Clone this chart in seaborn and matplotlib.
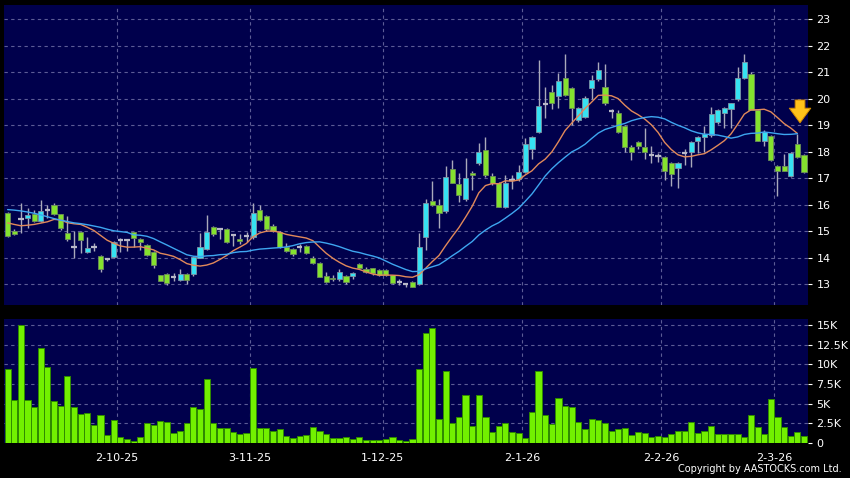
import numpy as np
import pandas as pd
import matplotlib
matplotlib.use("Agg")
import matplotlib.pyplot as plt
import seaborn as sns

# daily candles, one per trading day
opens = [15.67, 15.01, 15.45, 15.49, 15.63, 15.39, 15.79, 16.00, 15.63, 14.91,
         14.41, 14.97, 14.22, 14.38, 14.06, 13.94, 14.03, 14.66, 14.66, 14.95,
         14.70, 14.47, 14.22, 13.34, 13.37, 13.28, 13.15, 13.37, 13.37, 14.00,
         14.32, 15.16, 15.06, 15.06, 14.85, 14.69, 14.80, 14.79, 15.79, 15.58,
         15.19, 14.97, 14.41, 14.31, 14.41, 14.43, 14.00, 13.80, 13.30, 13.24,
         13.18, 13.30, 13.30, 13.77, 13.57, 13.59, 13.52, 13.52, 13.34, 13.07,
         12.99, 13.06, 12.99, 14.79, 16.14, 15.98, 15.77, 17.36, 16.77, 16.20,
         17.20, 17.55, 18.05, 17.09, 16.80, 15.92, 16.92, 16.95, 17.24, 18.08,
         18.74, 19.79, 20.23, 20.09, 20.76, 20.38, 19.19, 19.29, 20.41, 20.72,
         20.45, 19.53, 19.46, 18.96, 18.18, 18.37, 18.16, 17.87, 17.85, 17.80,
         17.58, 17.37, 17.96, 17.97, 18.41, 18.56, 18.62, 19.11, 19.46, 19.59,
         19.97, 20.79, 20.94, 19.57, 18.40, 18.58, 17.46, 17.46, 17.08, 18.27,
         17.87]
highs = [15.72, 15.08, 16.04, 15.86, 15.80, 16.17, 16.00, 16.05, 15.65, 15.57,
         15.00, 15.00, 14.79, 14.55, 14.10, 14.00, 14.62, 14.72, 14.70, 14.97,
         14.72, 14.50, 14.25, 13.36, 13.40, 13.40, 13.57, 13.40, 14.05, 14.92,
         15.60, 15.20, 15.10, 15.10, 14.90, 14.90, 14.95, 16.04, 15.98, 15.62,
         15.25, 15.00, 14.55, 14.35, 14.50, 14.46, 14.05, 13.84, 13.45, 13.35,
         13.55, 13.35, 13.45, 13.80, 13.65, 13.62, 13.55, 13.55, 13.36, 13.20,
         13.05, 13.10, 14.91, 16.20, 16.90, 16.20, 17.45, 17.70, 17.20, 17.75,
         17.25, 18.33, 18.56, 17.20, 16.85, 17.10, 17.10, 17.50, 18.50, 18.60,
         21.45, 20.45, 20.50, 20.96, 21.68, 20.45, 19.70, 20.10, 20.89, 21.38,
         21.30, 19.60, 19.55, 19.00, 18.25, 18.40, 18.90, 18.20, 17.95, 17.85,
         17.62, 17.60, 18.10, 18.40, 18.58, 18.95, 19.70, 19.60, 19.70, 19.85,
         21.20, 21.68, 21.00, 19.60, 18.80, 18.62, 17.50, 17.90, 18.00, 18.65,
         17.90]
lows = [14.77, 14.85, 14.91, 15.10, 15.35, 15.35, 15.50, 15.60, 15.04, 14.62,
        13.99, 14.17, 14.18, 14.25, 13.47, 13.88, 14.00, 14.20, 14.25, 14.40,
        14.30, 14.05, 13.60, 13.10, 12.96, 13.10, 13.12, 13.00, 13.30, 13.98,
        14.30, 14.80, 14.70, 14.55, 14.45, 14.50, 14.60, 14.70, 15.38, 15.00,
        14.95, 14.35, 14.22, 14.05, 14.20, 14.15, 13.75, 13.25, 13.05, 13.10,
        13.12, 13.00, 13.20, 13.55, 13.40, 13.35, 13.30, 13.30, 13.00, 12.95,
        12.90, 12.88, 12.95, 14.28, 15.95, 15.10, 15.70, 16.80, 16.10, 16.15,
        16.55, 17.50, 17.05, 16.75, 15.90, 15.88, 16.60, 16.90, 17.20, 17.72,
        18.70, 19.25, 19.60, 19.65, 20.10, 19.00, 19.10, 19.25, 20.00, 20.65,
        19.75, 19.25, 18.70, 17.98, 17.68, 18.10, 17.72, 17.55, 17.60, 16.92,
        16.70, 16.62, 17.50, 17.40, 17.95, 18.00, 18.55, 19.05, 18.90, 18.90,
        19.90, 20.75, 19.55, 18.40, 18.20, 17.65, 16.32, 17.25, 17.05, 17.75,
        17.20]
closes = [14.83, 14.90, 15.45, 15.60, 15.39, 15.77, 15.79, 15.63, 15.12, 14.69,
          14.41, 14.66, 14.37, 14.38, 13.55, 13.94, 14.60, 14.66, 14.66, 14.72,
          14.57, 14.09, 13.72, 13.12, 13.03, 13.28, 13.37, 13.17, 14.03, 14.41,
          14.95, 14.88, 15.06, 14.60, 14.85, 14.62, 14.80, 15.70, 15.42, 15.08,
          15.00, 14.41, 14.25, 14.12, 14.41, 14.18, 13.80, 13.28, 13.09, 13.20,
          13.46, 13.09, 13.40, 13.62, 13.46, 13.40, 13.35, 13.34, 13.03, 13.07,
          12.99, 12.90, 14.38, 16.07, 15.98, 15.69, 17.05, 16.82, 16.36, 16.99,
          17.11, 17.99, 17.11, 16.80, 15.92, 16.82, 16.92, 17.24, 18.28, 18.54,
          19.73, 19.79, 19.82, 20.67, 20.13, 19.63, 19.63, 20.03, 20.70, 21.08,
          19.82, 19.53, 18.75, 18.18, 17.97, 18.21, 17.99, 17.87, 17.85, 17.28,
          17.14, 17.55, 17.96, 18.37, 18.54, 18.66, 19.42, 19.55, 19.65, 19.82,
          20.76, 21.39, 19.57, 18.40, 18.75, 17.68, 17.26, 17.28, 17.96, 17.78,
          17.22]
volume = [9400, 5450, 15000, 5450, 4600, 12050, 9600, 5350, 4750, 8500,
          4600, 3700, 3850, 2300, 3550, 1000, 2900, 700, 500, 250,
          700, 2500, 2300, 2850, 2700, 1250, 1500, 2500, 4600, 4300,
          8150, 2500, 1850, 1850, 1350, 1150, 1250, 9500, 1850, 1850,
          1570, 1740, 930, 680, 890, 1020, 2080, 1520, 1100, 590,
          680, 760, 510, 800, 340, 340, 340, 510, 800, 340,
          210, 550, 9350, 13950, 14600, 3000, 9150, 2600, 3250, 6100,
          2150, 6100, 3350, 1350, 2200, 2500, 1350, 1300, 680, 3980,
          9150, 3550, 2370, 5750, 4700, 4550, 2700, 1750, 3050, 2900,
          2600, 1530, 1780, 1950, 1020, 1350, 1230, 800, 930, 800,
          1100, 1570, 1570, 2700, 1300, 1520, 2150, 1100, 1100, 1200,
          1150, 800, 3520, 2080, 1100, 5550, 3350, 2000, 890, 1440,
          930]

# moving-average values visible before a full window exists in the data
ma10_head = [15.31, 15.25, 15.20, 15.22, 15.25, 15.30, 15.35, 15.44, 15.42]
ma20_head = [15.81, 15.79, 15.76, 15.72, 15.67, 15.61, 15.54, 15.47, 15.41, 15.36,
             15.31, 15.28, 15.24, 15.19, 15.14, 15.07, 15.01, 14.98, 14.95]

tick_pos = [16.5, 36.5, 56.5, 77.5, 98.5, 115.5]
tick_labels = ["2-10-25", "3-11-25", "1-12-25", "2-1-26", "2-2-26", "2-3-26"]
price_ticks = list(range(13, 24))
vol_ticks = [0, 2500, 5000, 7500, 10000, 12500, 15000]
vol_labels = ["0", "2.5K", "5K", "7.5K", "10K", "12.5K", "15K"]

df = pd.DataFrame({"open": opens, "high": highs, "low": lows,
                   "close": closes, "volume": volume})
df["day"] = np.arange(len(df))
df["ma10"] = df["close"].rolling(10).mean()
df["ma20"] = df["close"].rolling(20).mean()
df.loc[:len(ma10_head) - 1, "ma10"] = ma10_head
df.loc[:len(ma20_head) - 1, "ma20"] = ma20_head

BG = "#00004c"
GRID = "#5c5c96"
UP = "#36e2f2"
DOWN = "#84e22e"
WICK = "#a9a9bb"

sns.set_theme(style="dark", rc={"figure.facecolor": "black",
                                "axes.facecolor": BG,
                                "font.family": "DejaVu Sans"})

fig = plt.figure(figsize=(8.5, 4.78), dpi=100)
W, H = 850, 478
ax_p = fig.add_axes([3.5 / W, 1 - 305 / H, 804.5 / W, 300 / H])
ax_v = fig.add_axes([3.5 / W, 1 - 443 / H, 804.5 / W, 124 / H])

# ---- price panel
for ax in (ax_p, ax_v):
    ax.set_facecolor(BG)
    for s in ax.spines.values():
        s.set_visible(False)
    for t in tick_pos:
        ax.axvline(t, color=GRID, lw=0.8, ls=(0, (3, 3)), zorder=0)

for p in price_ticks:
    ax_p.axhline(p, color=GRID, lw=0.8, ls=(0, (3, 3)), zorder=0)

ax_p.vlines(df["day"], df["low"], df["high"], color=WICK, lw=1, zorder=1)

up = df[df["close"] > df["open"]]
down = df[df["close"] < df["open"]]
flat = df[df["close"] == df["open"]]
ax_p.bar(up["day"], up["close"] - up["open"], bottom=up["open"], width=0.78,
         color=UP, edgecolor="#7f93a6", linewidth=0.6, zorder=2)
ax_p.bar(down["day"], down["open"] - down["close"], bottom=down["close"], width=0.78,
         color=DOWN, edgecolor="#6c8c5a", linewidth=0.6, zorder=2)
ax_p.hlines(flat["close"], flat["day"] - 0.4, flat["day"] + 0.4, color="#b8b8c8",
            lw=1.6, zorder=2)

ma = df.iloc[:-1]
sns.lineplot(data=ma, x="day", y="ma10", color="#e2895a", lw=1, ax=ax_p, zorder=3)
sns.lineplot(data=ma, x="day", y="ma20", color="#3ea6f0", lw=1, ax=ax_p, zorder=3)

ax_p.annotate("", xy=(119.4, 18.98), xytext=(119.4, 20.05),
              arrowprops=dict(arrowstyle="simple,head_width=1.1,head_length=0.75,tail_width=0.5",
                              fc="#ffc21a", ec="#d48a00", lw=0.7, mutation_scale=14),
              zorder=5)

ax_p.set_xlim(-0.62, 120.6)
ax_p.set_ylim(12.21, 23.53)
ax_p.yaxis.tick_right()
ax_p.set_yticks(price_ticks)
ax_p.set_xticks(tick_pos)
ax_p.set_xticklabels([])
ax_p.tick_params(axis="x", length=0)
ax_p.tick_params(axis="y", colors="white", labelsize=8, length=3, width=0.8,
                 pad=3, labelcolor="white")
ax_p.set_xlabel("")
ax_p.set_ylabel("")
ax_p.grid(False)

# ---- volume panel
for v in vol_ticks[1:]:
    ax_v.axhline(v, color=GRID, lw=0.8, ls=(0, (3, 3)), zorder=0)

sns.barplot(data=df, x="day", y="volume", native_scale=True, color="#72f000",
            saturation=1, width=0.92, edgecolor="#2f8a00", linewidth=0.7,
            errorbar=None, ax=ax_v, zorder=2)

ax_v.set_xlim(-0.62, 120.6)
ax_v.set_ylim(0, 15760)
ax_v.yaxis.tick_right()
ax_v.set_yticks(vol_ticks)
ax_v.set_yticklabels(vol_labels)
ax_v.set_xticks(tick_pos)
ax_v.set_xticklabels(tick_labels)
ax_v.tick_params(axis="y", colors="white", labelsize=8, length=3, width=0.8, pad=3)
ax_v.tick_params(axis="x", colors="#bbbbbb", labelcolor="white", labelsize=8,
                 length=4, width=0.8, pad=3)
ax_v.set_xlabel("")
ax_v.set_ylabel("")
ax_v.grid(False)

fig.text(0.99, 0.008, "Copyright by AASTOCKS.com Ltd.", color="white",
         fontsize=7, ha="right", va="bottom")

fig.savefig("out.png", dpi=100, facecolor="black")
